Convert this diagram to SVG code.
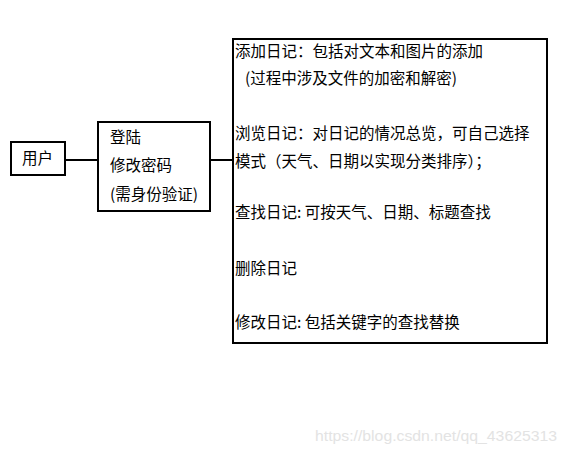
<svg xmlns="http://www.w3.org/2000/svg" width="567" height="454" viewBox="0 0 567 454">
<style>
.box{fill:#fff;stroke:#000;stroke-width:2}
.ln{stroke:#000;stroke-width:2;fill:none}
.t{font-family:"Noto Sans CJK SC","Microsoft YaHei",sans-serif;font-size:15.5px;fill:#000}
.wm{font-family:"Liberation Sans",Arial,sans-serif;font-size:15.5px;fill:#e3e3e3}
</style>
<rect width="567" height="454" fill="#fff"/>
<g id="connectors">
<line class="ln" x1="65" y1="160" x2="98" y2="160"/>
<line class="ln" x1="210" y1="160" x2="233" y2="160"/>
</g>
<g id="user">
<rect class="box" x="11" y="142" width="54" height="33"/>
<text class="t" x="22" y="164">用户</text>
</g>
<g id="login">
<rect class="box" x="98" y="122" width="112" height="89"/>
<text class="t" x="110" y="143">登陆</text>
<text class="t" x="110" y="171">修改密码</text>
<text class="t" x="110" y="200">(需身份验证)</text>
</g>
<g id="functions">
<rect class="box" x="233" y="39" width="314" height="304"/>
<text class="t" x="235" y="57">添加日记：包括对文本和图片的添加</text>
<text class="t" x="245" y="84">(过程中涉及文件的加密和解密)</text>
<text class="t" x="235" y="139">浏览日记：对日记的情况总览，可自己选择</text>
<text class="t" x="235" y="167">模式（天气、日期以实现分类排序）；</text>
<text class="t" x="235" y="218">查找日记: 可按天气、日期、标题查找</text>
<text class="t" x="235" y="274">删除日记</text>
<text class="t" x="235" y="328">修改日记: 包括关键字的查找替换</text>
</g>
<text class="wm" x="315" y="441" textLength="242" lengthAdjust="spacingAndGlyphs">https://blog.csdn.net/qq_43625313</text>
</svg>
